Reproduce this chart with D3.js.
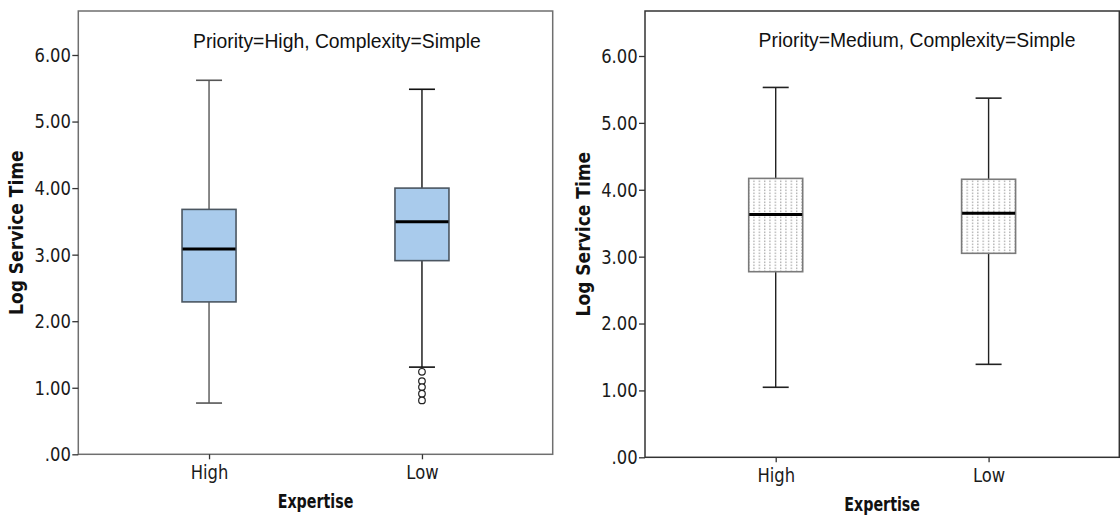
<!DOCTYPE html>
<html>
<head>
<meta charset="utf-8">
<script src="https://cdn.jsdelivr.net/npm/d3@7"></script>
<style>
  html, body { margin: 0; padding: 0; background: #fff; }
  svg { display: block; }
</style>
</head>
<body>
<svg id="chart" width="1120" height="519"></svg>
<script>
// ---------- data ----------
const categories = ["High", "Low"];
const panelTitles = ["Priority=High, Complexity=Simple", "Priority=Medium, Complexity=Simple"];
const yTicks = [0, 1, 2, 3, 4, 5, 6];
const yTickLabels = [".00", "1.00", "2.00", "3.00", "4.00", "5.00", "6.00"];
const xTitle = "Expertise";
const yTitle = "Log Service Time";

// panel 1: Priority=High
const p1Min = [0.77, 1.31];
const p1Q1 = [2.29, 2.91];
const p1Median = [3.085, 3.495];
const p1Q3 = [3.68, 4.00];
const p1Max = [5.62, 5.485];
const p1Outliers = [[], [1.24, 1.10, 1.01, 0.91, 0.81]];

// panel 2: Priority=Medium
const p2Min = [1.047, 1.39];
const p2Q1 = [2.775, 3.05];
const p2Median = [3.63, 3.648];
const p2Q3 = [4.17, 4.157];
const p2Max = [5.53, 5.37];
const p2Outliers = [[], []];

// ---------- layout ----------
const panels = [
  { title: panelTitles[0], min: p1Min, q1: p1Q1, med: p1Median, q3: p1Q3, max: p1Max, out: p1Outliers,
    left: 78.3, top: 11, right: 552.7, bottom: 454.3, y6: 55, titleX: 193, titleY: 48,
    fill: "#a9cbec", boxStroke: "#4b5661", whisk: ["#555", "#111"], frame: "#6f6f6f" },
  { title: panelTitles[1], min: p2Min, q1: p2Q1, med: p2Median, q3: p2Q3, max: p2Max, out: p2Outliers,
    left: 645, top: 11, right: 1119.3, bottom: 457.3, y6: 56, titleX: 758.6, titleY: 46.5,
    fill: "url(#dots)", boxStroke: "#7a7a7a", whisk: ["#222", "#222"], frame: "#333" }
];

const svg = d3.select("#chart");
const defs = svg.append("defs");
const pat = defs.append("pattern").attr("id", "dots")
  .attr("patternUnits", "userSpaceOnUse").attr("width", 5.33).attr("height", 3);
pat.append("rect").attr("width", 5.33).attr("height", 3).attr("fill", "#fff");
pat.append("rect").attr("x", 2).attr("y", 0.5).attr("width", 1).attr("height", 1.6).attr("fill", "#9a9a9a");

const boxW = 54, capW = 26;

panels.forEach(p => {
  const g = svg.append("g");
  const x = d3.scalePoint().domain(categories).range([p.left, p.right]).padding(0.614);
  const y = d3.scaleLinear().domain([0, 6]).range([p.bottom, p.y6]);

  // frame
  g.append("rect").attr("x", p.left).attr("y", p.top)
    .attr("width", p.right - p.left).attr("height", p.bottom - p.top)
    .attr("fill", "none").attr("stroke", p.frame).attr("stroke-width", 1.5);

  // y axis
  const ya = g.append("g").attr("transform", `translate(${p.left},0)`)
    .call(d3.axisLeft(y).tickValues(yTicks).tickSize(6).tickPadding(3)
      .tickFormat((d, i) => yTickLabels[i]));
  ya.select(".domain").remove();
  ya.selectAll(".tick line").attr("stroke", "#333").attr("stroke-width", 1.3);
  ya.selectAll(".tick text")
    .attr("font-family", "DejaVu Sans, sans-serif").attr("font-size", 20)
    .attr("fill", "#1a1a1a").attr("transform", "scale(0.82,1)");

  // x axis
  const xa = g.append("g").attr("transform", `translate(0,${p.bottom})`)
    .call(d3.axisBottom(x).tickSize(5).tickPadding(6));
  xa.select(".domain").remove();
  xa.selectAll(".tick line").attr("stroke", "#333").attr("stroke-width", 1.3);
  xa.selectAll(".tick text")
    .attr("font-family", "DejaVu Sans, sans-serif").attr("font-size", 20)
    .attr("fill", "#1a1a1a").attr("transform", "scale(0.82,1)");

  // boxes
  categories.forEach((c, i) => {
    const cx = x(c);
    const wc = p.whisk[i];
    // whiskers
    g.append("line").attr("x1", cx).attr("x2", cx).attr("y1", y(p.max[i])).attr("y2", y(p.q3[i]))
      .attr("stroke", wc).attr("stroke-width", 1.4);
    g.append("line").attr("x1", cx).attr("x2", cx).attr("y1", y(p.q1[i])).attr("y2", y(p.min[i]))
      .attr("stroke", wc).attr("stroke-width", 1.4);
    g.append("line").attr("x1", cx - capW / 2).attr("x2", cx + capW / 2)
      .attr("y1", y(p.max[i])).attr("y2", y(p.max[i])).attr("stroke", wc).attr("stroke-width", 1.6);
    g.append("line").attr("x1", cx - capW / 2).attr("x2", cx + capW / 2)
      .attr("y1", y(p.min[i])).attr("y2", y(p.min[i])).attr("stroke", wc).attr("stroke-width", 1.6);
    // box
    g.append("rect").attr("x", cx - boxW / 2).attr("y", y(p.q3[i]))
      .attr("width", boxW).attr("height", y(p.q1[i]) - y(p.q3[i]))
      .attr("fill", p.fill).attr("stroke", p.boxStroke).attr("stroke-width", 1.6);
    // median
    g.append("line").attr("x1", cx - boxW / 2 + 0.5).attr("x2", cx + boxW / 2 - 0.5)
      .attr("y1", y(p.med[i])).attr("y2", y(p.med[i]))
      .attr("stroke", "#000").attr("stroke-width", 3);
    // outliers
    p.out[i].forEach(v => {
      g.append("circle").attr("cx", cx).attr("cy", y(v)).attr("r", 3.3)
        .attr("fill", "#fff").attr("stroke", "#222").attr("stroke-width", 1.2);
    });
  });

  // panel title
  g.append("text").attr("transform", `translate(${p.titleX},${p.titleY}) scale(0.967,1)`)
    .attr("font-family", "Liberation Sans, Arial, sans-serif").attr("font-size", 20)
    .attr("fill", "#111").text(p.title);

  // x title
  const midX = (p.left + p.right) / 2;
  g.append("text").attr("transform", `translate(${midX},${p.bottom + 54}) scale(0.75,1)`)
    .attr("text-anchor", "middle")
    .attr("font-family", "DejaVu Sans, sans-serif").attr("font-weight", "bold").attr("font-size", 19)
    .attr("fill", "#111").text(xTitle);

  // y title
  const midY = (p.top + p.bottom) / 2;
  g.append("text").attr("transform", `translate(${p.left - 55},${midY}) rotate(-90) scale(0.9,1)`)
    .attr("text-anchor", "middle")
    .attr("font-family", "DejaVu Sans, sans-serif").attr("font-weight", "bold").attr("font-size", 19)
    .attr("fill", "#111").text(yTitle);
});
</script>
</body>
</html>
